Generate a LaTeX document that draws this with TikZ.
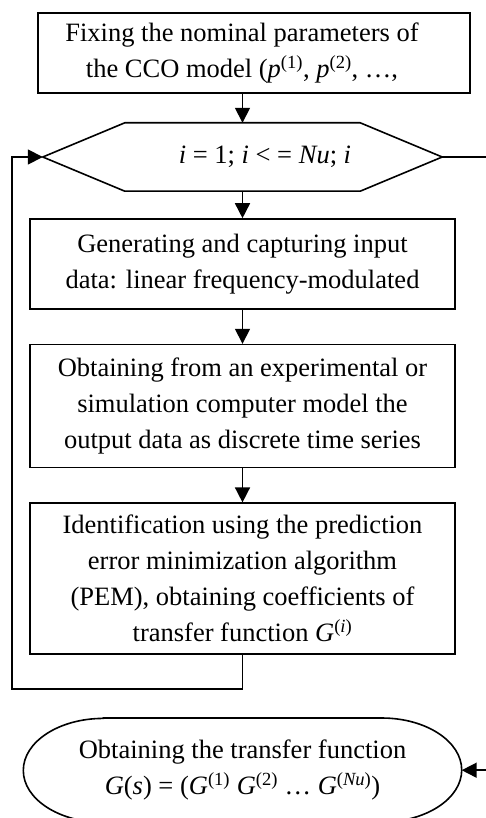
\documentclass[tikz,border=0pt]{standalone}
\usepackage{fontspec}
\setmainfont{Liberation Serif}
\usetikzlibrary{positioning, arrows.meta, calc}

\begin{document}
\begin{tikzpicture}[
    x=1pt, y=1pt,
    every node/.style={font=\fontsize{26.5pt}{36pt}\selectfont},
    box/.style={rectangle, draw, line width=1.6pt, minimum width=425pt,
                align=center, inner sep=0pt},
    frame/.style={rectangle, minimum width=399pt, minimum height=68pt,
                  align=center, inner sep=0pt},
    edge/.style={line width=1.6pt},
    arr/.style={-{Triangle[length=15pt, width=15pt]}, line width=1.6pt}
]
\useasboundingbox (0,0) rectangle (485,-818);

% start
\node[box, minimum width=432pt, minimum height=80pt] (fix) at (254,-53)
    {Fixing the nominal parameters of\hspace*{24pt}\\
     the CCO model (\textit{p}\textsuperscript{(1)}, \textit{p}\textsuperscript{(2)}, …,\hspace*{24pt}};

% loop header
\node[frame, below=29pt of fix, xshift=-11.5pt] (loop)
    {\hspace*{45pt}\textit{i} = 1; \textit{i} < = \textit{Nu}; \textit{i}};
\draw[edge] (loop.west) -- ($(loop.north west)+(82,0)$)
    -- ($(loop.north east)+(-82,0)$) -- (loop.east)
    -- ($(loop.south east)+(-82,0)$) -- ($(loop.south west)+(82,0)$) -- cycle;

% loop body
\node[box, minimum height=90pt, below=27pt of loop] (gen)
    {Generating and capturing input\\
     data: linear frequency-modulated};
\node[box, minimum height=123pt, below=34pt of gen] (obt)
    {Obtaining from an experimental or\\
     simulation computer model the\\
     output data as discrete time series};
\node[box, minimum height=151pt, below=34pt of obt] (ident)
    {Identification using the prediction\\
     error minimization algorithm\\
     (PEM), obtaining coefficients of\\
     transfer function \textit{G}\textsuperscript{(\textit{i})}};

% end
\node[below=63pt of ident, minimum width=438pt, minimum height=104pt,
      inner sep=0pt, align=center] (term)
    {Obtaining the transfer function\\
     \textit{G}(\textit{s}) = (\textit{G}\textsuperscript{(1)} \textit{G}\textsuperscript{(2)} … \textit{G}\textsuperscript{(\textit{Nu})})};
\draw[edge] ($(term.north west)+(80,0)$) -- ($(term.north east)+(-80,0)$)
    arc[start angle=90, end angle=-90, x radius=80pt, y radius=52pt]
    -- ($(term.south west)+(80,0)$)
    arc[start angle=270, end angle=90, x radius=80pt, y radius=52pt] -- cycle;

\draw[arr] (fix.south -| loop.north) -- (loop.north);
\draw[arr] (loop.south) -- (gen.north);
\draw[arr] (gen.south) -- (obt.north);
\draw[arr] (obt.south) -- (ident.north);

% back to the header, and out of the loop
\coordinate (back) at ($(loop.west)+(-31,0)$);
\coordinate (exit) at ($(loop.east)+(47,0)$);
\draw[arr] (ident.south) -- ++(0,-34) -| (back) -- (loop.west);
\draw[arr] (loop.east) -- (exit) |- (term.east);

\end{tikzpicture}
\end{document}
